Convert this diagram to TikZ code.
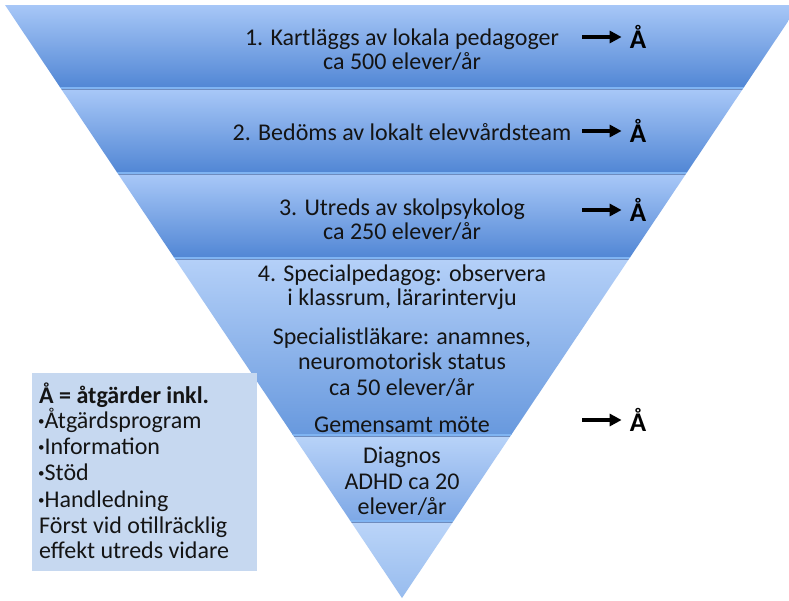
\documentclass[tikz,border=0pt]{standalone}
\usepackage{fontspec}
\setmainfont{Carlito}
\usetikzlibrary{arrows.meta}
\definecolor{btop}{RGB}{167,199,247}
\definecolor{bbot}{RGB}{82,135,213}
\definecolor{b4top}{RGB}{180,208,248}
\definecolor{b4bot}{RGB}{104,153,222}
\definecolor{b5top}{RGB}{183,210,248}
\definecolor{b5bot}{RGB}{126,168,230}
\definecolor{b6top}{RGB}{186,212,248}
\definecolor{b6bot}{RGB}{150,187,238}
\definecolor{sepl}{RGB}{128,180,242}
\definecolor{sepd}{RGB}{110,140,190}
\definecolor{legfill}{RGB}{198,216,240}
\definecolor{txt}{RGB}{20,20,20}
\newcommand{\smbul}{{\fontsize{13}{13}\selectfont\raisebox{2.2pt}{•}}}
\tikzset{
  lbl/.style={anchor=base, inner sep=0pt, text=txt, font=\fontsize{24}{28}\selectfont},
  leg/.style={anchor=base west, inner sep=0pt, text=txt, font=\fontsize{24}{28}\selectfont},
  amark/.style={anchor=base, inner sep=0pt, text=black, font=\fontsize{27}{28}\selectfont\bfseries},
  arr/.style={line width=3.2pt, -{Triangle[length=12pt,width=12pt]}, shorten >=8pt},
}
\begin{document}
\begin{tikzpicture}[x=1pt,y=-1pt]
\useasboundingbox (0,0) rectangle (789,600);
\fill[white] (0,0) rectangle (789,600);
% funnel bands
\begin{scope}
\clip (5,5) -- (799,5) -- (402,598) -- cycle;
\shade[top color=btop, bottom color=bbot] (0,5) rectangle (800,87);
\fill[sepl] (0,87) rectangle (800,89.3);
\fill[sepd] (0,89.3) rectangle (800,90.2);
\shade[top color=btop, bottom color=bbot] (0,90.2) rectangle (800,172);
\fill[sepl] (0,172) rectangle (800,174.3);
\fill[sepd] (0,174.3) rectangle (800,175.2);
\shade[top color=btop, bottom color=bbot] (0,175.2) rectangle (800,257);
\fill[sepl] (0,257) rectangle (800,259.3);
\fill[sepd] (0,259.3) rectangle (800,260.2);
\shade[top color=b4top, bottom color=b4bot] (0,260.2) rectangle (800,434);
\fill[sepl] (0,434) rectangle (800,436.3);
\fill[sepd] (0,436.3) rectangle (800,437.2);
\shade[top color=b5top, bottom color=b5bot] (0,437.2) rectangle (800,520);
\fill[sepl] (0,520) rectangle (800,522.3);
\fill[sepd] (0,522.3) rectangle (800,523.2);
\shade[top color=b6top, bottom color=b6bot] (0,523.2) rectangle (800,600);
\end{scope}
% texts
\node[lbl] (t1a) at (402,45) {1. Kartläggs av lokala pedagoger};
\node[lbl] (t1b) at (402,69) {ca 500 elever/år};
\node[lbl] (t2) at (402,140) {2. Bedöms av lokalt elevvårdsteam};
\node[lbl] (t3a) at (402,215) {3. Utreds av skolpsykolog};
\node[lbl] (t3b) at (402,239) {ca 250 elever/år};
\node[lbl] (t4a) at (402,281) {4. Specialpedagog: observera};
\node[lbl] (t4b) at (402,305) {i klassrum, lärarintervju};
\node[lbl] (t4c) at (402,344) {Specialistläkare: anamnes,};
\node[lbl] (t4d) at (402,369) {neuromotorisk status};
\node[lbl] (t4e) at (402,395) {ca 50 elever/år};
\node[lbl] (t4f) at (402,432) {Gemensamt möte};
\node[lbl] (t5a) at (402,463) {Diagnos};
\node[lbl] (t5b) at (402,489) {ADHD ca 20};
\node[lbl] (t5c) at (402,514) {elever/år};
% arrows to Å
\node[amark] (A1) at (638,48) {Å};
\node[amark] (A2) at (638,142) {Å};
\node[amark] (A3) at (638,221) {Å};
\node[amark] (A4) at (638,431) {Å};
\coordinate (s1) at (582,37);
\coordinate (s2) at (582,131);
\coordinate (s3) at (582,210);
\coordinate (s4) at (582,420);
\draw[arr] (s1) -- (s1 -| A1.west);
\draw[arr] (s2) -- (s2 -| A2.west);
\draw[arr] (s3) -- (s3 -| A3.west);
\draw[arr] (s4) -- (s4 -| A4.west);
% legend
\fill[legfill] (32,373) rectangle (257,571);
\node[leg, font=\fontsize{24}{28}\selectfont\bfseries] (l0) at (39,403) {Å = åtgärder inkl.};
\node[leg] (l1) at (38,428) {\smbul Åtgärdsprogram};
\node[leg] (l2) at (38,454) {\smbul Information};
\node[leg] (l3) at (38,480) {\smbul Stöd};
\node[leg] (l4) at (38,507) {\smbul Handledning};
\node[leg] (l5) at (39,533) {Först vid otillräcklig};
\node[leg] (l6) at (39,558) {effekt utreds vidare};
\end{tikzpicture}
\end{document}
